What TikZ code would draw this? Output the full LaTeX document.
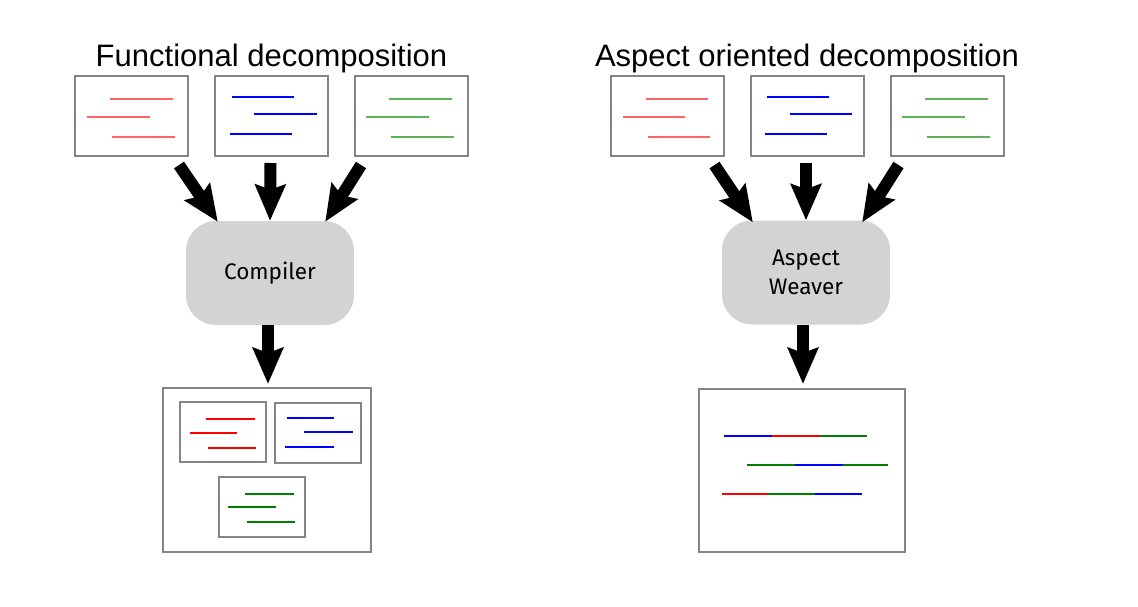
\documentclass[tikz,border=0pt]{standalone}
\usepackage{fontspec}
\setmainfont{Liberation Sans}
\newfontfamily\handfont{Fira Sans}
\usetikzlibrary{arrows.meta,calc}
\definecolor{boxgray}{HTML}{858585}
\definecolor{nodegray}{HTML}{D3D3D3}
\definecolor{lred}{HTML}{FF6464}
\definecolor{lgreen}{HTML}{5CB35C}
\definecolor{dgreen}{HTML}{008000}
\tikzset{
  srcbox/.style={draw=boxgray, line width=2pt, fill=white, minimum width=113pt, minimum height=80pt, inner sep=0pt},
  smallbox/.style={draw=boxgray, line width=1.6pt, fill=white, minimum width=86pt, minimum height=60pt, inner sep=0pt},
  resbox/.style={draw=boxgray, line width=2pt, fill=white, inner sep=0pt},
  proc/.style={fill=nodegray, rounded corners=30pt, minimum width=168pt, minimum height=104pt, inner sep=0pt, font=\handfont\fontsize{22.5}{29}\selectfont, align=center},
  title/.style={font=\fontsize{31}{36}\selectfont, anchor=base, inner sep=0pt},
  code/.style={line width=1.3pt},
  bigarrow/.style={line width=12pt, -{Stealth[length=36pt, width=30pt, inset=5pt]}}
}
\begin{document}
\begin{tikzpicture}[x=1pt,y=-1pt]
\useasboundingbox (0,0) rectangle (1138,607);
\fill[white] (0,0) rectangle (1138,607);

% titles
\node[title] (t1) at (271.5,67) {Functional decomposition};
\node[title] (t2) at (807,67) {Aspect oriented decomposition};

% ---------- left: functional ----------
\node[srcbox] (f1) at (131.5,116) {};
\node[srcbox] (f2) at (271.5,116) {};
\node[srcbox] (f3) at (411.5,116) {};
\draw[code,lred] (110,99) -- (173,99) (87,117) -- (150,117) (112,137) -- (175,137);
\draw[code,blue] (232,97) -- (294,97) (254,114) -- (317,114) (230,134) -- (292,134);
\draw[code,lgreen] (389,99) -- (452,99) (366,117) -- (429,117) (391,137) -- (454,137);

\node[proc] (comp) at (270,273) {Compiler};

\node[resbox, minimum width=208pt, minimum height=164pt] (res1) at (267,470) {};
\node[smallbox] (ra) at (223,432) {};
\node[smallbox] (rb) at (318,433) {};
\node[smallbox] (rc) at (262,507) {};
\draw[code,red] (206,419) -- (255,419) (190,433) -- (237,433) (208,448) -- (256,448);
\draw[code,blue] (287,418) -- (334,418) (304,432) -- (353,432) (285,447) -- (334,447);
\draw[code,dgreen] (245,494) -- (294,494) (228,507) -- (276,507) (247,522) -- (295,522);

\draw[bigarrow] ($(f1.south east)+(-10,8)$) -- ($(comp.north west)+(32,1)$);
\draw[bigarrow] ($(f2.south)+(-1,6)$) -- (comp.north);
\draw[bigarrow] ($(f3.south west)+(7,8)$) -- ($(comp.north east)+(-29,1)$);
\draw[bigarrow] ($(comp.south)+(-2,0)$) -- ($(comp.south |- res1.north)+(-2,-3)$);

% ---------- right: aspect oriented ----------
\node[srcbox] (a1) at (667,116) {};
\node[srcbox] (a2) at (807,116) {};
\node[srcbox] (a3) at (947,116) {};
\draw[code,lred] (646,99) -- (708,99) (623,117) -- (685,117) (648,137) -- (710,137);
\draw[code,blue] (767,97) -- (829,97) (790,114) -- (852,114) (765,134) -- (827,134);
\draw[code,lgreen] (925,99) -- (988,99) (902,117) -- (965,117) (927,137) -- (990,137);

\node[proc] (weaver) at (806,272.5) {Aspect\\Weaver};

\node[resbox, minimum width=206pt, minimum height=163pt] (res2) at (802,470.5) {};
\draw[code,blue] (724,436) -- (772,436);
\draw[code,red] (772,436) -- (820,436);
\draw[code,dgreen] (820,436) -- (867,436);
\draw[code,dgreen] (747,465) -- (795,465);
\draw[code,blue] (795,465) -- (843,465);
\draw[code,dgreen] (843,465) -- (888,465);
\draw[code,red] (722,494) -- (768,494);
\draw[code,dgreen] (768,494) -- (815,494);
\draw[code,blue] (815,494) -- (862,494);

\draw[bigarrow] ($(a1.south east)+(-10,8)$) -- ($(weaver.north west)+(31,2)$);
\draw[bigarrow] ($(a2.south)+(-1,6)$) -- (weaver.north);
\draw[bigarrow] ($(a3.south west)+(9,8)$) -- ($(weaver.north east)+(-28,2)$);
\draw[bigarrow] ($(weaver.south)+(-3,0)$) -- ($(weaver.south |- res2.north)+(-3,-4)$);
\end{tikzpicture}
\end{document}
